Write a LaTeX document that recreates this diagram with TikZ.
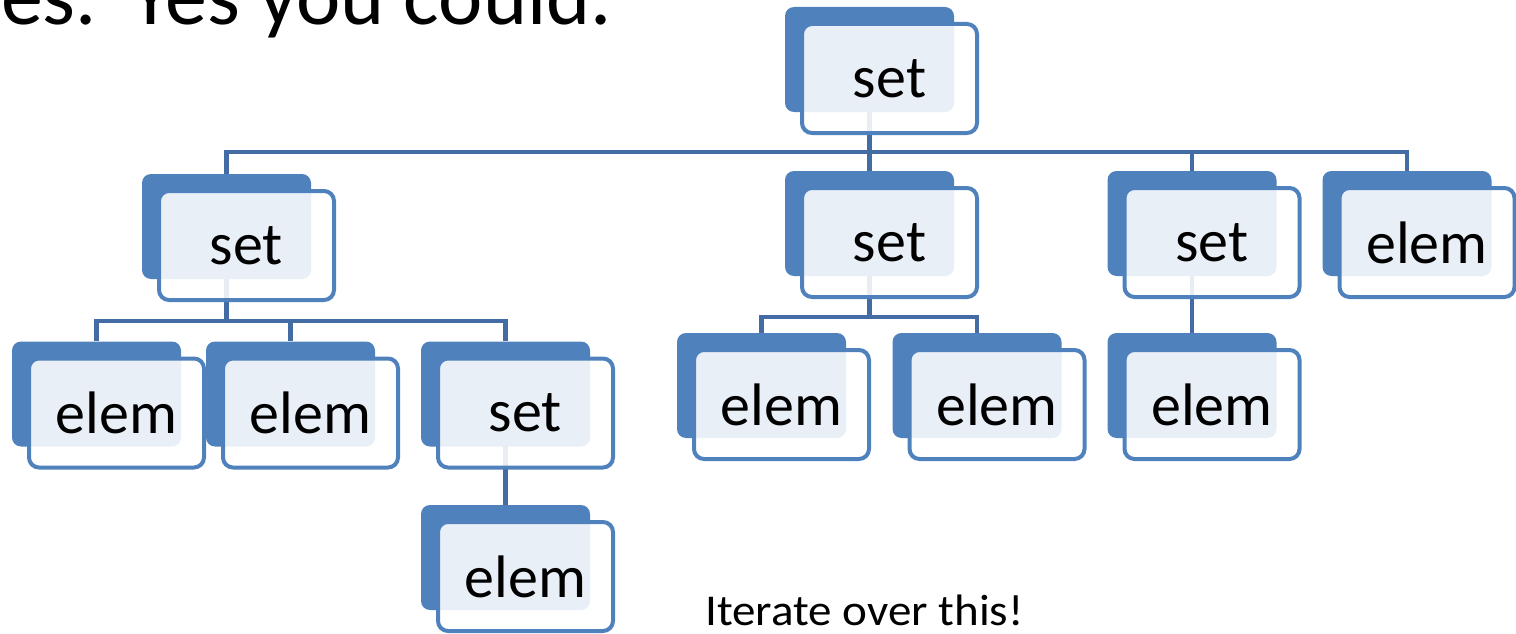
\documentclass[tikz,border=0pt]{standalone}
\usepackage{fontspec}
\usepackage{graphicx}
\setmainfont{Carlito}
\usetikzlibrary{backgrounds}
\definecolor{accent}{RGB}{79,129,189}
\definecolor{connc}{RGB}{66,108,163}
\tikzset{
  backbox/.style={rectangle, rounded corners=9pt, fill=accent, minimum width=169pt, minimum height=105pt, inner sep=0pt},
  frontbox/.style={rectangle, rounded corners=10pt, draw=accent, line width=4pt, fill=white, fill opacity=0.88, text opacity=1, minimum width=175pt, minimum height=109pt, inner sep=0pt, font=\fontsize{60}{62}\selectfont},
  conn/.style={draw=connc, line width=4.5pt},
  caption/.style={inner sep=0pt, anchor=base west}
}
\newcommand\tnode[4]{%
  \node[backbox] (#1) at (#2,#3) {};
  \node[frontbox] (#1-f) at ([shift={(20,19)}]#1.center) {#4};
}
\begin{document}
\begin{tikzpicture}[x=1pt,y=-1pt]
\useasboundingbox (0,0) rectangle (1516,634);
% top text (cut off at the left edge, as in the picture)
\node[caption, font=\fontsize{84}{86}\selectfont, anchor=base east] (title) at (612,25) {res.\ \hspace{15pt}Yes you could.};
% nodes
\tnode{root}{869.5}{59.5}{set}
\tnode{A}{226.5}{226.5}{set}
\tnode{B}{869.5}{223.5}{set}
\tnode{C}{1192}{223.5}{set}
\tnode{D}{1407}{223.5}{elem}
\tnode{A1}{96.5}{394}{elem}
\tnode{A2}{290.5}{394}{elem}
\tnode{A3}{505.5}{394}{set}
\tnode{A3a}{505.5}{557.5}{elem}
\tnode{B1}{761.5}{385.5}{elem}
\tnode{B2}{977}{385.5}{elem}
\tnode{C1}{1192}{385.5}{elem}
\node[caption, font=\fontsize{44}{46}\selectfont] (note) at (705,625) {\scalebox{1.07}[1]{Iterate over this!}};
% connectors
\begin{scope}[on background layer]
\coordinate (rootbar) at (0,152);
\coordinate (Abar) at (0,321);
\coordinate (Bbar) at (0,317);
\foreach \c in {A,B,C,D} {
  \draw[conn] ([yshift=6]root.south) -- (root.south |- rootbar) -| (\c.north);
}
\foreach \c in {A1,A2,A3} {
  \draw[conn] ([yshift=6]A.south) -- (A.south |- Abar) -| (\c.north);
}
\foreach \c in {B1,B2} {
  \draw[conn] ([yshift=6]B.south) -- (B.south |- Bbar) -| (\c.north);
}
\draw[conn] ([yshift=6]C.south) -- (C1.north);
\draw[conn] ([yshift=6]A3.south) -- (A3a.north);
\end{scope}
\end{tikzpicture}
\end{document}
